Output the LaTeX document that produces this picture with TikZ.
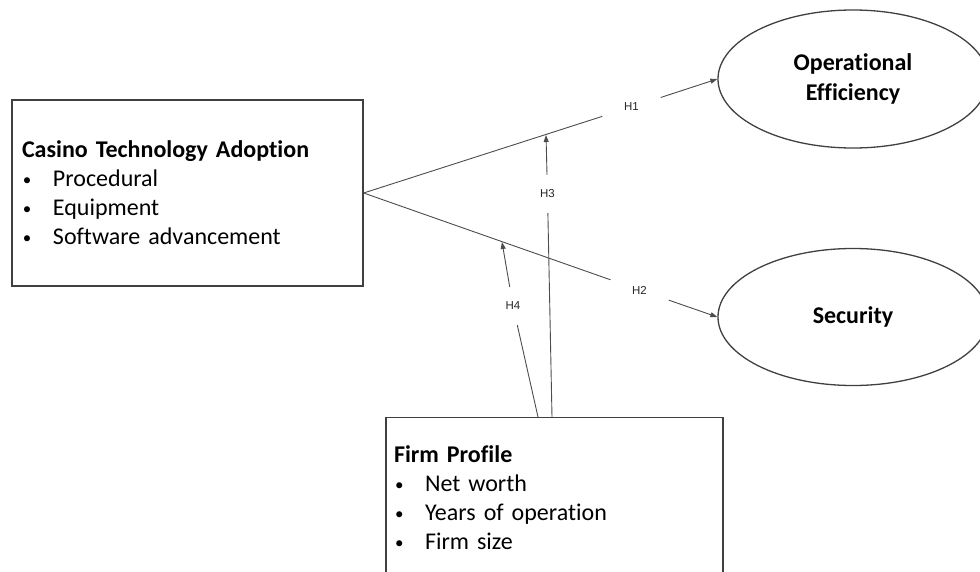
\documentclass[tikz,border=0pt]{standalone}
\usepackage{fontspec}
\setmainfont{Carlito}[Ligatures={NoCommon}]
\newfontfamily\hfont{Liberation Sans}
\usetikzlibrary{arrows.meta,shapes.geometric}
\newcommand{\bitem}[1]{\makebox[31pt][l]{\hspace{1pt}\raisebox{1.5pt}{\fontsize{17}{17}\selectfont\textbullet}}#1}
\begin{document}
\begin{tikzpicture}[x=1pt,y=-1pt,
  boxnode/.style={draw=black!75,line width=1.3pt,rectangle,align=left,inner sep=0pt,
     font=\fontsize{24}{29}\selectfont},
  ovalnode/.style={draw=black!75,line width=1.3pt,ellipse,inner sep=0pt,align=center,
     font=\fontsize{24}{30}\selectfont\bfseries},
  hlab/.style={inner sep=0pt,font=\hfont\fontsize{11.5}{11.5}\selectfont,text=black!85},
  link/.style={draw=black!70,line width=0.9pt},
  arr/.style={link,-{Triangle[length=7pt,width=5pt]}}]
\useasboundingbox (0,0) rectangle (980,571);
\clip (0,0) rectangle (980,571);
\node[boxnode,minimum width=351,minimum height=186,text width=331] (cta) at (187.5,193)
  {\textbf{Casino Technology Adoption}\\ \bitem{Procedural}\\ \bitem{Equipment}\\ \bitem{Software advancement}};
\node[boxnode,minimum width=337,minimum height=161,text width=321,anchor=north] (fp) at (554.5,417)
  {\textbf{Firm Profile}\\ \bitem{Net worth}\\ \bitem{Years of operation}\\ \bitem{Firm size}};
\node[ovalnode,minimum width=270,minimum height=138] (oe) at (853,79) {Operational\\Efficiency};
\node[ovalnode,minimum width=270,minimum height=137] (sec) at (853,317) {Security};
\node[hlab,minimum width=58,minimum height=20] (h1) at (631.5,107) {H1};
\node[hlab,minimum width=58,minimum height=20] (h2) at (639.5,290) {H2};
\node[hlab,minimum width=12,minimum height=38] (h3) at (547.5,194) {H3};
\node[hlab,minimum width=12,minimum height=38] (h4) at (513,306) {H4};
\coordinate (h3s) at (552,417);
\coordinate (h4s) at (538,417);
\coordinate (h3t) at (546,135);
\coordinate (h4t) at (502,242);
\draw[link] (cta.east) -- (h1);
\draw[arr] (h1) -- (oe.west);
\draw[link] (cta.east) -- (h2);
\draw[arr] (h2) -- (sec.west);
\draw[link] (h3s) -- (h3);
\draw[arr] (h3) -- (h3t);
\draw[link] (h4s) -- (h4);
\draw[arr] (h4) -- (h4t);
\end{tikzpicture}
\end{document}
